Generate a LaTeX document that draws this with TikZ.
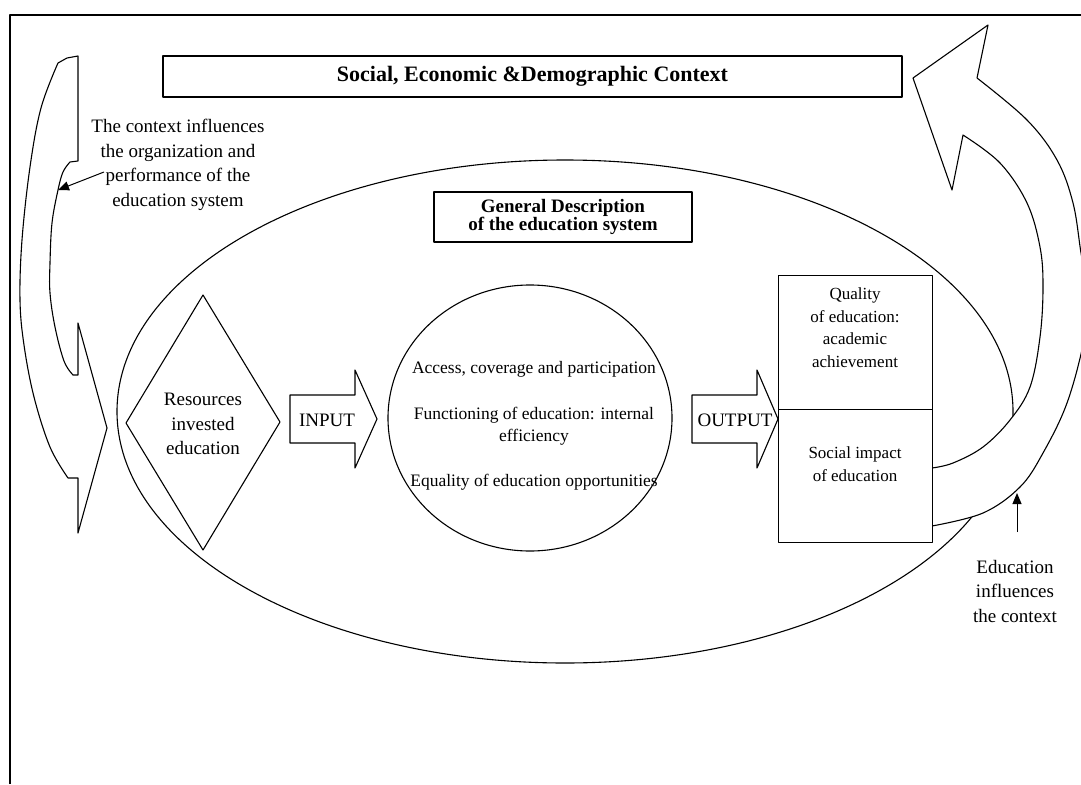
\documentclass[tikz,border=0pt]{standalone}
\usepackage{fontspec}
\setmainfont{Liberation Serif}
\usetikzlibrary{shapes.geometric,arrows.meta}
\tikzset{
  ln/.style={line width=1.1pt, line join=round},
  box/.style={ln, draw, fill=white, inner sep=0pt},
  lbl/.style={font=\fontsize{19}{24.5}\selectfont, align=center, inner sep=0pt},
  ctext/.style={font=\fontsize{17.5}{22}\selectfont, align=center, inner sep=0pt},
  btext/.style={font=\fontsize{17}{22.5}\selectfont, align=center, inner sep=0pt},
  ptr/.style={line width=1pt, -{Triangle[length=11pt,width=9pt]}},
}
\begin{document}
\begin{tikzpicture}[x=1pt,y=-1pt]
\useasboundingbox (0,0) rectangle (1081,784);
\clip (0,0) rectangle (1081,784);
% frame
\draw[ln] (10,784) -- (10,15) -- (1081,15);
% title
\node[box, minimum width=739pt, minimum height=41pt, font=\bfseries\fontsize{22}{26}\selectfont] (title) at (532.5,76.5) {Social, Economic \&Demographic Context};
% large ellipse
\node[ln, draw, ellipse, minimum width=896pt, minimum height=503pt, inner sep=0pt] (sys) at (565,411.5) {};
% general description box
\node[box, minimum width=258pt, minimum height=50pt, font=\bfseries\fontsize{19}{18}\selectfont, align=center] (gen) at (563,217) {General Description\\of the education system};
% left curved arrow
\draw[ln, fill=white] (78,56) -- (67,58) -- plot[smooth, tension=0.6] coordinates {(58,63) (41,108) (30,167) (22,240) (20,300) (24,345) (34,397) (50,447) (68,478)} -- (78,478) -- (78,533) -- (107,428) -- (78,323) -- (78,375) -- plot[smooth, tension=0.6] coordinates {(73,375) (64,361) (55,327) (50,293) (50,263) (52,223) (58,190) (63,172) (70,162)} -- (78,161) -- cycle;
% context text and pointer
\node[lbl] (ctx) at (178,165) {The context influences\\the organization and\\performance of the\\education system};
\coordinate (ctxs) at (104,172);
\coordinate (ctxp) at (58,190);
\draw[ptr] (ctxs) -- (ctxp);
% diamond
\draw[ln, fill=white] (203,295) -- (280,422) -- (203,550) -- (126,423) -- cycle;
\node[lbl] (res) at (203,424) {Resources\\invested\\education};
% input arrow
\draw[ln, fill=white] (290,395) -- (355,395) -- (355,370) -- (377,419) -- (355,468) -- (355,443) -- (290,443) -- cycle;
\node[lbl] (inp) at (327,420) {INPUT};
% circle
\node[ln, draw, ellipse, minimum width=284pt, minimum height=266pt, inner sep=0pt] (circ) at (530,418) {};
\node[ctext] (c1) at (534,369) {Access, coverage and participation};
\node[ctext] (c2) at (534,426) {Functioning of education: internal\\efficiency};
\node[ctext] (c3) at (534,482) {Equality of education opportunities};
% output arrow
\draw[ln, fill=white] (692,395) -- (757,395) -- (757,370) -- (778,419) -- (757,468) -- (757,443) -- (692,443) -- cycle;
% right big curved arrow
\draw[ln, fill=white] (932,526) -- plot[smooth, tension=0.6] coordinates {(932,526) (983,513) (1020,487) (1043,453) (1067,403) (1084,340) (1088,295) (1081,253) (1073,203) (1057,160) (1027,120) (977,78)} -- (988,25) -- (913,78) -- (952,190) -- (963,135) -- plot[smooth, tension=0.6] coordinates {(963,135) (1000,163) (1027,203) (1040,247) (1043,287) (1040,337) (1030,387) (1010,420) (983,447) (953,463) (932,468)} -- cycle;
% output boxes
\node[box, minimum width=154pt, minimum height=134pt, anchor=north west] (qual) at (778,275) {};
\node[box, minimum width=154pt, minimum height=133pt, anchor=north west] (soc) at (778,409) {};
\node[lbl] (outp) at (735,420) {OUTPUT};
\node[btext] (qt) at (855,327.5) {Quality\\of education:\\academic\\achievement};
\node[btext] (st) at (855,464) {Social impact\\of education};
% education influences
\node[lbl] (edu) at (1015,591) {Education\\influences\\the context};
\coordinate (edb) at (1017,532);
\coordinate (edt) at (1017,493);
\draw[ptr] (edb) -- (edt);
\end{tikzpicture}
\end{document}
